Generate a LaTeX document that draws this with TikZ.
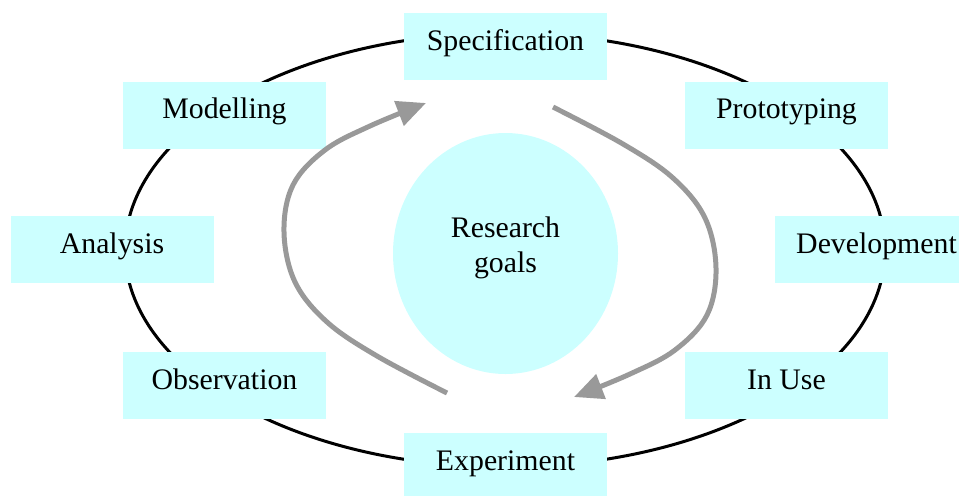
\documentclass[tikz,border=0pt]{standalone}
\usepackage{fontspec}
\setmainfont{Liberation Serif}
\usetikzlibrary{arrows.meta,shapes.geometric}
\definecolor{boxfill}{HTML}{CCFFFF}
\definecolor{arrowgray}{HTML}{999999}
\tikzset{
  stagebox/.style={fill=boxfill, draw=none, minimum width=101.5pt, minimum height=33.5pt, inner sep=0pt, text height=8pt, text depth=4.5pt, font=\fontsize{14.9}{17.5}\selectfont},
  goalnode/.style={inner sep=0pt, align=center, font=\fontsize{14.9}{17.5}\selectfont},
  cyclearrow/.style={draw=arrowgray, line width=2.5pt, -{Triangle[length=14.5pt,width=12.75pt]}},
  ring/.style={draw=black, line width=1.5pt}
}
\begin{document}
\begin{tikzpicture}[x=0.5pt, y=-0.5pt]
\clip (0,0) rectangle (959,495);
\useasboundingbox (0,0) rectangle (959,495);
\coordinate (ringc) at (505,250);
\draw[ring] (ringc) ellipse [x radius=380, y radius=217];
\node[stagebox] (spec) at (505.5,46.5) {Specification};
\node[stagebox] (model) at (224.5,115) {Modelling};
\node[stagebox] (proto) at (786.5,115) {Prototyping};
\node[stagebox] (anal) at (112,249.5) {Analysis};
\node[stagebox] (dev) at (876.5,249.5) {Development};
\node[stagebox] (obs) at (224.5,385.5) {Observation};
\node[stagebox] (inuse) at (786.5,385.5) {In Use};
\node[stagebox] (exp) at (505.5,466.5) {Experiment};
\coordinate (goalc) at (505.5,253.5);
\fill[boxfill] (goalc) ellipse [x radius=112.5, y radius=120.5];
\node[goalnode] (goals) at (505.5,248) {Research\\goals};
\coordinate (ltail) at (447,393);
\coordinate (ltip) at (426,103);
\coordinate (rtail) at (553,107);
\coordinate (rtip) at (574,397);
\draw[cyclearrow] plot[smooth, tension=0.6] coordinates {(ltail) (377,356) (327,322) (295,282) (284,232) (293,185) (325,150) (370,126) (ltip)};
\draw[cyclearrow] plot[smooth, tension=0.6] coordinates {(rtail) (623,144) (673,178) (705,218) (716,268) (707,315) (675,350) (630,374) (rtip)};
\end{tikzpicture}
\end{document}
